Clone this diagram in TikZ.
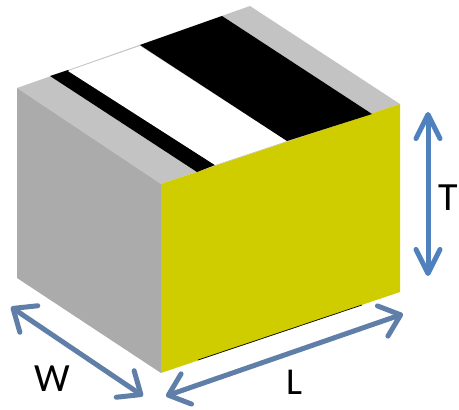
\documentclass[tikz,border=0pt]{standalone}
\usepackage{fontspec}
\setmainfont{Carlito}
\usetikzlibrary{arrows.meta}

\begin{document}
\begin{tikzpicture}[x=1pt, y=-1pt,
    dimarrow/.style={line width=5pt, {Straight Barb[length=19pt,width=32pt,line width=5pt,round]}-{Straight Barb[length=19pt,width=32pt,line width=5pt,round]}},
    tallarrow/.style={line width=5pt, {Straight Barb[length=24pt,width=24pt,line width=5pt,round]}-{Straight Barb[length=24pt,width=24pt,line width=5pt,round]}},
    dimlabel/.style={inner sep=0pt, font=\fontsize{40}{44}\selectfont}]

    \definecolor{sidecolor}{HTML}{ABABAB}
    \definecolor{capcolor}{HTML}{C3C3C3}
    \definecolor{facecolor}{HTML}{CFCC00}
    \definecolor{tcolor}{HTML}{4F81BD}
    \definecolor{wcolor}{HTML}{5F7FA8}

    \useasboundingbox (0,0) rectangle (459,410);

    % corners of the chip
    \coordinate (back) at (250,6);
    \coordinate (left) at (17,88);
    \coordinate (right) at (400,104);
    \coordinate (front) at (161,184);
    \coordinate (leftb) at (17,278);
    \coordinate (rightb) at (400,292);
    \coordinate (frontb) at (161,373);

    \fill[capcolor] (left) -- (back) -- (right) -- (front) -- cycle;
    \fill[sidecolor] (left) -- (front) -- (frontb) -- (leftb) -- cycle;
    \fill[facecolor] (front) -- (right) -- (rightb) -- (frontb) -- cycle;

    % stripes on the top
    \fill[black] (50,76) -- (68,70) -- (215,165) -- (197,172) -- cycle;
    \fill[white] (68,71) -- (140,46) -- (287,141) -- (215,165) -- cycle;
    \fill[black] (140,45) -- (222,16) -- (372,114) -- (287,141) -- cycle;
    \draw[black, line width=0.7pt] (198,360) -- (362,305);

    % dimension arrows
    \coordinate (Ttop) at (428,112);
    \coordinate (Tbot) at (428,276);
    \coordinate (Wtop) at (11,307);
    \coordinate (Wbot) at (143,396);
    \coordinate (Lleft) at (166,396);
    \coordinate (Lright) at (403,314);

    \draw[tallarrow, tcolor] (Ttop) -- (Tbot);
    \draw[dimarrow, wcolor] (Wtop) -- (Wbot);
    \draw[dimarrow, wcolor] (Lleft) -- (Lright);

    \node[dimlabel] (Tlabel) at (448.5,198) {T};
    \node[dimlabel] (Wlabel) at (52,379) {W};
    \node[dimlabel, font=\fontsize{38}{40}\selectfont] (Llabel) at (294,382) {L};
\end{tikzpicture}
\end{document}
